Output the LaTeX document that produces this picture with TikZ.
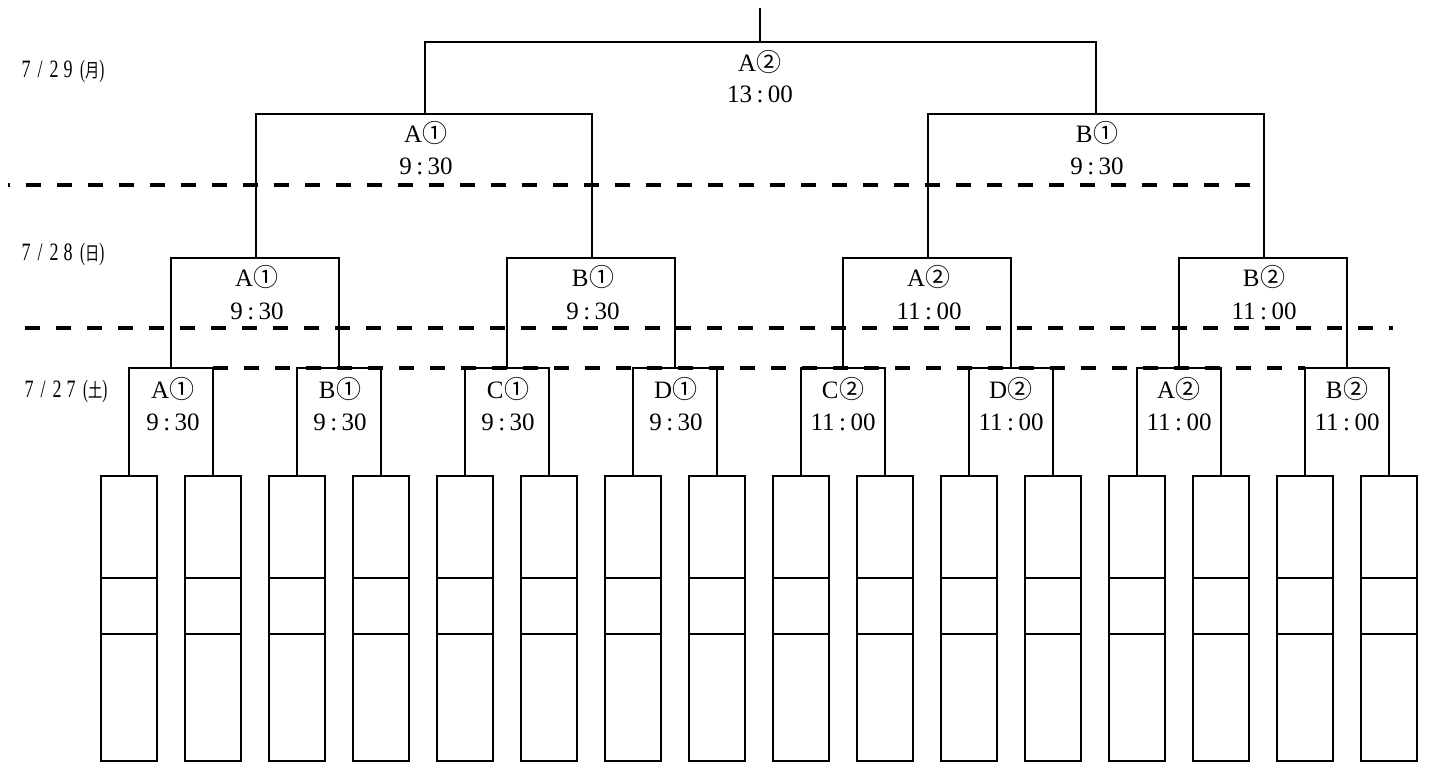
\documentclass[tikz,border=0pt]{standalone}
\usepackage{fontspec}
\setmainfont{Liberation Serif}
\newfontfamily\cjk{Noto Sans CJK JP}
\newcommand{\circA}{\kern0.5pt{\cjk\fontsize{25}{25}\selectfont ①}}
\newcommand{\circB}{\kern0.5pt{\cjk\fontsize{25}{25}\selectfont ②}}
\newcommand{\tm}[2]{#1\kern4.5pt:\kern4.5pt#2}
\newcommand{\dch}[1]{\makebox[14pt]{\scalebox{0.72}[1]{#1}}}
\newcommand{\dlabel}[4]{\dch{#1}\dch{/}\dch{#2}\dch{#3}\kern5pt\scalebox{0.6}[1]{(}\scalebox{0.75}[1]{{\cjk\fontsize{19}{19}\selectfont #4}}\scalebox{0.6}[1]{)}}
\begin{document}
\begin{tikzpicture}[x=1pt,y=-1pt,
  br/.style={line width=2pt},
  entry/.style={draw,line width=2pt,minimum width=56pt,minimum height=285pt,inner sep=0pt,anchor=north},
  lbl/.style={font=\fontsize{25}{30}\selectfont,inner sep=0pt,anchor=base},
  datelbl/.style={font=\fontsize{25}{25}\selectfont,inner sep=0pt,anchor=base west},
  dline/.style={line width=4pt,dash pattern=on 15pt off 16pt}]
\useasboundingbox (0,0) rectangle (1429,762);

% leaf boxes
\foreach \i in {1,...,16}{
  \node[entry] (b\i) at ({101+84*(\i-1)+28},475) {};
  \draw[line width=2pt] (b\i.north west) ++(0,103) -- ++(56,0);
  \draw[line width=2pt] (b\i.north west) ++(0,159) -- ++(56,0);
}

% round 1 bracket points
\foreach \i in {1,...,8}{
  \coordinate (r\i) at ({171+168*(\i-1)},368);
}
% round 2 points
\foreach \i in {1,...,4}{
  \coordinate (q\i) at ({256+336*(\i-1)},258);
}
\coordinate (s1) at (425,114);
\coordinate (s2) at (1096,114);
\coordinate (f) at (760,42);
\coordinate (top) at (760,8);

% dashed day separators
\coordinate (d1a) at (8,185);   \coordinate (d1b) at (1263,185);
\coordinate (d2a) at (25,328);  \coordinate (d2b) at (1393,328);
\coordinate (d3a) at (213,368); \coordinate (d3b) at (1305,368);
\draw[dline,dash phase=13pt] (d1a) -- (d1b);
\draw[dline] (d2a) -- (d2b);
\draw[dline] (d3a) -- (d3b);

% brackets round 1
\foreach \i [evaluate=\i as \a using int(2*\i-1), evaluate=\i as \b using int(2*\i)] in {1,...,8}{
  \draw[br] (b\a.north) |- (r\i) -| (b\b.north);
}
% round 2
\foreach \i [evaluate=\i as \a using int(2*\i-1), evaluate=\i as \b using int(2*\i)] in {1,...,4}{
  \draw[br] (r\a) |- (q\i) -| (r\b);
}
\draw[br] (q1) |- (s1) -| (q2);
\draw[br] (q3) |- (s2) -| (q4);
\draw[br] (s1) |- (f) -| (s2);
\draw[br] (f) -- (top);

% labels
\newcommand{\mlab}[7]{%
  \node[lbl] (#1a) at ({#2},{#3}) {#5#6};
  \node[lbl] (#1b) at ({#2},{#4}) {#7};}
\mlab{lf}{760}{72}{103}{A}{\circB}{\tm{13}{00}}
\mlab{ls1}{426}{143}{175}{A}{\circA}{\tm{9}{30}}
\mlab{ls2}{1097}{143}{175}{B}{\circA}{\tm{9}{30}}

\mlab{lq1}{257}{286}{319}{A}{\circA}{\tm{9}{30}}
\mlab{lq2}{593}{286}{319}{B}{\circA}{\tm{9}{30}}
\mlab{lq3}{929}{286}{319}{A}{\circB}{\tm{11}{00}}
\mlab{lq4}{1264}{286}{319}{B}{\circB}{\tm{11}{00}}

\mlab{lr1}{173}{398}{430}{A}{\circA}{\tm{9}{30}}
\mlab{lr2}{340}{398}{430}{B}{\circA}{\tm{9}{30}}
\mlab{lr3}{508}{398}{430}{C}{\circA}{\tm{9}{30}}
\mlab{lr4}{676}{398}{430}{D}{\circA}{\tm{9}{30}}
\mlab{lr5}{843}{398}{430}{C}{\circB}{\tm{11}{00}}
\mlab{lr6}{1011}{398}{430}{D}{\circB}{\tm{11}{00}}
\mlab{lr7}{1179}{398}{430}{A}{\circB}{\tm{11}{00}}
\mlab{lr8}{1347}{398}{430}{B}{\circB}{\tm{11}{00}}

% dates
\node[datelbl] (dt1) at (19,78) {\dlabel{7}{2}{9}{月}};
\node[datelbl] (dt2) at (19,260) {\dlabel{7}{2}{8}{日}};
\node[datelbl] (dt3) at (22,397) {\dlabel{7}{2}{7}{土}};
\end{tikzpicture}
\end{document}
